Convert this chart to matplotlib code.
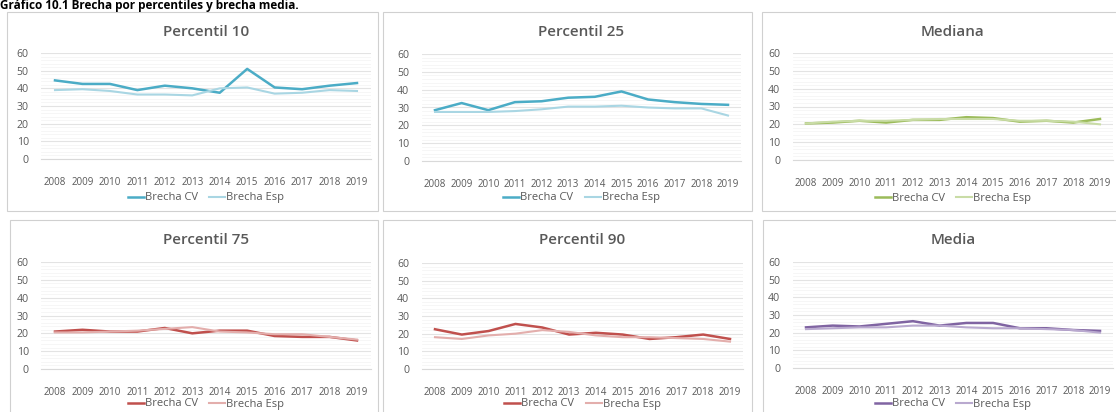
import numpy as np
import matplotlib
matplotlib.use('Agg')
import matplotlib.pyplot as plt
from matplotlib.patches import Rectangle

plt.rcParams['font.family'] = ['Open Sans', 'DejaVu Sans']

years = [2008, 2009, 2010, 2011, 2012, 2013, 2014, 2015, 2016, 2017, 2018, 2019]
titles = ['Percentil 10', 'Percentil 25', 'Mediana', 'Percentil 75', 'Percentil 90', 'Media']

p10_cv  = [44.5, 42.5, 42.5, 39, 41.5, 40, 37.5, 51, 40.5, 39.5, 41.5, 43]
p10_esp = [39, 39.5, 38.5, 36.5, 36.5, 36, 40, 40.5, 37, 37.5, 39, 38.5]
p25_cv  = [28.5, 32.5, 28.5, 33, 33.5, 35.5, 36, 39, 34.5, 33, 32, 31.5]
p25_esp = [27.5, 27.5, 27.5, 28, 29, 30.5, 30.5, 31, 30, 29.5, 29.5, 25.5]
med_cv  = [20.5, 21, 22, 21, 22.5, 22.5, 24, 23.5, 21.5, 22, 21, 23]
med_esp = [20.5, 21.5, 22, 22, 22.5, 23, 23, 23, 22, 22, 21.5, 20]
p75_cv  = [21, 22, 21, 21, 23, 20, 21.5, 21.5, 18.5, 18, 18, 16]
p75_esp = [20.5, 20.5, 21, 21.5, 22.5, 23.5, 21, 20.5, 19.5, 19.5, 18, 16.5]
p90_cv  = [22.5, 19.5, 21.5, 25.5, 23.5, 19.5, 20.5, 19.5, 17, 18, 19.5, 17]
p90_esp = [18, 17, 19, 20, 22, 21, 19, 18, 18, 17.5, 17, 15.5]
media_cv  = [23, 24, 23.5, 25, 26.5, 24, 25.5, 25.5, 22.5, 22.5, 21.5, 21]
media_esp = [22, 22.5, 23, 23, 24, 24, 23, 22.5, 22.5, 22, 21.5, 20]

series_cv = [p10_cv, p25_cv, med_cv, p75_cv, p90_cv, media_cv]
series_esp = [p10_esp, p25_esp, med_esp, p75_esp, p90_esp, media_esp]
colors_cv = ['#4bacc6', '#4bacc6', '#9bbb59', '#c0504d', '#c0504d', '#8064a2']
colors_esp = ['#a9d6e3', '#a9d6e3', '#c9dca6', '#e3aeac', '#e3aeac', '#b9a9cf']

W, H = 1116, 412
fig = plt.figure(figsize=(W / 100, H / 100), dpi=100)

def fx(x):
  return x / W

def fy(y):
  return 1 - y / H

# panel frames (left, top, right, bottom) and plot areas (first cat, last cat, y of 60, y of 0) in pixels
frames = [(7, 12, 378, 211), (383, 12, 752, 211), (762, 12, 1130, 211),
          (10, 220, 378, 420), (383, 220, 752, 420), (763, 220, 1130, 420)]
areas = [(55, 357, 53, 159), (435, 728, 54, 161), (806, 1100, 53, 160),
         (55, 357, 262, 369), (435, 730, 263, 369), (806, 1100, 262, 368)]

fig.text(fx(0), fy(9), 'Gráfico 10.1 Brecha por percentiles y brecha media.',
         fontsize=8.5, fontweight='bold', va='baseline', ha='left', color='#000000')

for i in range(6):
  l, t, r, b = frames[i]
  fig.patches.append(Rectangle((fx(l), fy(b)), fx(r - l), (b - t) / H, transform=fig.transFigure,
                               facecolor='white', edgecolor='#d0d0d0', linewidth=0.8, zorder=-5))
  c0, c1, y60, y0 = areas[i]
  sp = (c1 - c0) / 11.0
  x0, x1 = c0 - sp / 2, c1 + sp / 2
  ax = fig.add_axes([fx(x0), fy(y0), (x1 - x0) / W, (y0 - y60) / H])
  ax.set_zorder(2)
  ax.set_facecolor('none')
  ax.plot(years, series_cv[i], color=colors_cv[i], lw=1.8, label='Brecha CV', zorder=3)
  ax.plot(years, series_esp[i], color=colors_esp[i], lw=1.5, label='Brecha Esp', zorder=3)
  ax.set_xlim(2007.5, 2019.5)
  ax.set_ylim(0, 60)
  ax.set_yticks(range(0, 61, 10))
  ax.set_yticks(range(0, 61, 2), minor=True)
  ax.set_xticks(years)
  ax.grid(axis='y', which='major', color='#e3e3e3', lw=0.8)
  ax.grid(axis='y', which='minor', color='#f5f5f5', lw=0.6)
  for s in ['top', 'right', 'left']:
    ax.spines[s].set_visible(False)
  ax.spines['bottom'].set_color('#d9d9d9')
  ax.tick_params(axis='both', which='both', length=0, labelcolor='#595959')
  ax.tick_params(axis='y', pad=9, labelsize=7.6)
  ax.tick_params(axis='x', pad=13, labelsize=7)
  ax.set_title(titles[i], fontsize=11, fontweight='semibold', color='#595959',
               y=1 + (y60 - (t + 20)) / (y0 - y60), pad=0, va='center')
  leg_y = -((t + 186 if i < 3 else t + 184) - y0) / (y0 - y60)
  ax.legend(loc='center', bbox_to_anchor=(0.5, leg_y), ncol=2, frameon=False,
            fontsize=8, labelcolor='#595959', handlelength=1.45, handletextpad=0.1,
            columnspacing=1.0)

fig.savefig('out.png', dpi=100)
